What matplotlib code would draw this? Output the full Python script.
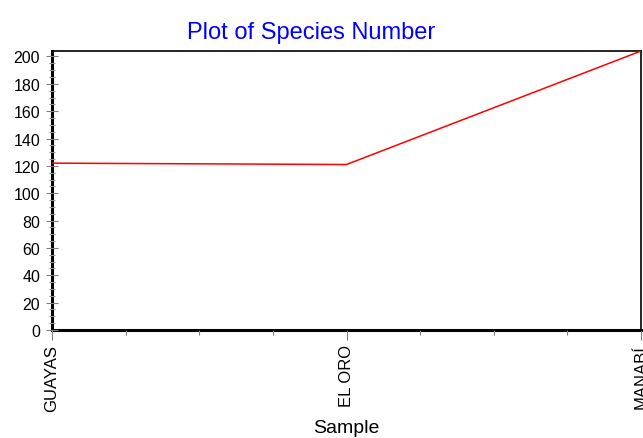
import matplotlib
matplotlib.use("Agg")
import matplotlib.pyplot as plt
from matplotlib.ticker import MultipleLocator, AutoMinorLocator

plt.rcParams['font.family'] = ['Liberation Sans', 'DejaVu Sans']

samples = ["GUAYAS", "EL ORO", "MANABÍ"]
species = [122, 121, 204]
y_ticks = [0, 20, 40, 60, 80, 100, 120, 140, 160, 180, 200]

fig = plt.figure(figsize=(6.43, 4.39), dpi=100)
ax = fig.add_axes([52/643, 1 - 331/439, (641-52)/643, (331-52)/439])

x = list(range(len(samples)))
ax.plot(x, species, color="red", linewidth=1.1, zorder=3)

ax.set_xlim(0, len(samples) - 1)
ax.set_ylim(0, max(species))
ax.set_xticks(x)
ax.set_xticklabels(samples, rotation=90, fontsize=12)
ax.xaxis.set_minor_locator(AutoMinorLocator(4))
ax.set_yticks(y_ticks)
ax.set_yticklabels([str(v) for v in y_ticks], fontsize=11.5)
ax.yaxis.set_minor_locator(MultipleLocator(5))

ax.tick_params(axis='x', which='major', direction='out', length=7, width=0.8, color='#808080', pad=3)
ax.tick_params(axis='y', which='major', direction='inout', length=9, width=0.8, color='#808080', pad=4)
ax.tick_params(axis='x', which='minor', direction='out', length=3.5, width=0.8, color='#808080')
ax.tick_params(axis='y', which='minor', direction='inout', length=4, width=0.8, color='#909090')

for side in ['left', 'bottom']:
    ax.spines[side].set_linewidth(2.2)
    ax.spines[side].set_zorder(1)
for side in ['top', 'right']:
    ax.spines[side].set_linewidth(1.2)

ax.set_xlabel("Sample", fontsize=14)
ax.xaxis.set_label_coords(0.5, -0.318)
ax.set_title("Plot of Species Number", color="blue", fontsize=17, pad=9, x=0.44)

fig.savefig("out.png", dpi=100)
